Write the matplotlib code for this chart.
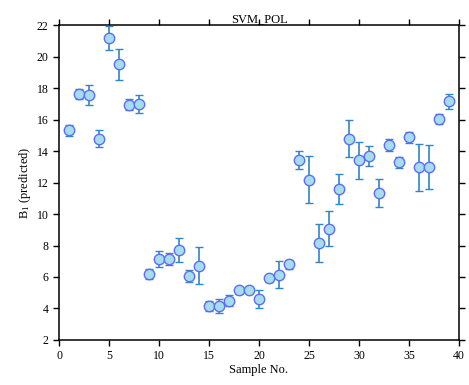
import matplotlib
matplotlib.use("Agg")
import matplotlib.pyplot as plt

plt.rcParams['font.family'] = ['Liberation Serif', 'DejaVu Serif']
plt.rcParams['mathtext.fontset'] = 'custom'
plt.rcParams['mathtext.rm'] = 'Liberation Serif'
plt.rcParams['mathtext.it'] = 'Liberation Serif:italic'

# sample numbers and predicted B1 with lower / upper error bar ends
sample = list(range(1, 40))
pred = [15.32, 17.6, 17.56, 14.79, 21.15, 19.53, 16.95, 17.01,
        6.19, 7.12, 7.12, 7.73, 6.08, 6.72, 4.16, 4.14, 4.5, 5.2, 5.2,
        4.61, 5.91, 6.1, 6.8, 13.44, 12.15, 8.15, 9.06, 11.58, 14.79,
        13.44, 13.71, 11.33, 14.39, 13.29, 14.88, 13.0, 13.0, 16.06, 17.16]
upper = [15.68, 17.96, 18.22, 15.32, 21.92, 20.5, 17.31, 17.58,
         6.51, 7.62, 7.5, 8.47, 6.46, 7.9, 4.45, 4.58, 4.84, 5.39, 5.3,
         5.2, 6.06, 6.99, 7.1, 14.01, 13.67, 9.34, 10.16, 12.53, 15.98,
         14.6, 14.35, 12.22, 14.75, 13.65, 15.2, 14.47, 14.41, 16.36, 17.62]
lower = [14.96, 17.29, 16.91, 14.24, 20.41, 18.51, 16.61, 16.4,
         5.87, 6.63, 6.76, 6.97, 5.7, 5.53, 3.86, 3.72, 4.16, 4.94, 5.1,
         4.04, 5.7, 5.28, 6.51, 12.85, 10.67, 6.97, 7.94, 10.65, 13.61,
         12.23, 13.08, 10.46, 14.01, 12.91, 14.52, 11.47, 11.56, 15.74, 16.69]

err_lo = [p - l for p, l in zip(pred, lower)]
err_hi = [u - p for p, u in zip(pred, upper)]

fig = plt.figure(figsize=(4.69, 3.85), dpi=100)
ax = fig.add_axes([0.1258, 0.1169, 0.8529, 0.8181])

ax.errorbar(sample, pred, yerr=[err_lo, err_hi], fmt='o', ecolor='#2f86c8',
            elinewidth=1.2, capsize=3.2, capthick=1.2,
            marker='o', markersize=7.5, markerfacecolor='#a6dcec',
            markeredgecolor='#5b6ef5', markeredgewidth=1.0, zorder=3)

ax.set_xlim(0, 40)
ax.set_ylim(2, 22)
ax.set_xticks(range(0, 41, 5))
ax.set_yticks(range(2, 23, 2))
ax.tick_params(direction='out', length=4, width=1, labelsize=8.5,
               top=True, right=True, labeltop=False, labelright=False)
for s in ax.spines.values():
    s.set_linewidth(1.1)

ax.set_xlabel('Sample No.', fontsize=9, labelpad=1)
ax.set_ylabel('B$_1$ (predicted)', fontsize=9, labelpad=3)
ax.set_title('SVM_POL', fontsize=9, pad=2)

fig.savefig('out.png', dpi=100)
